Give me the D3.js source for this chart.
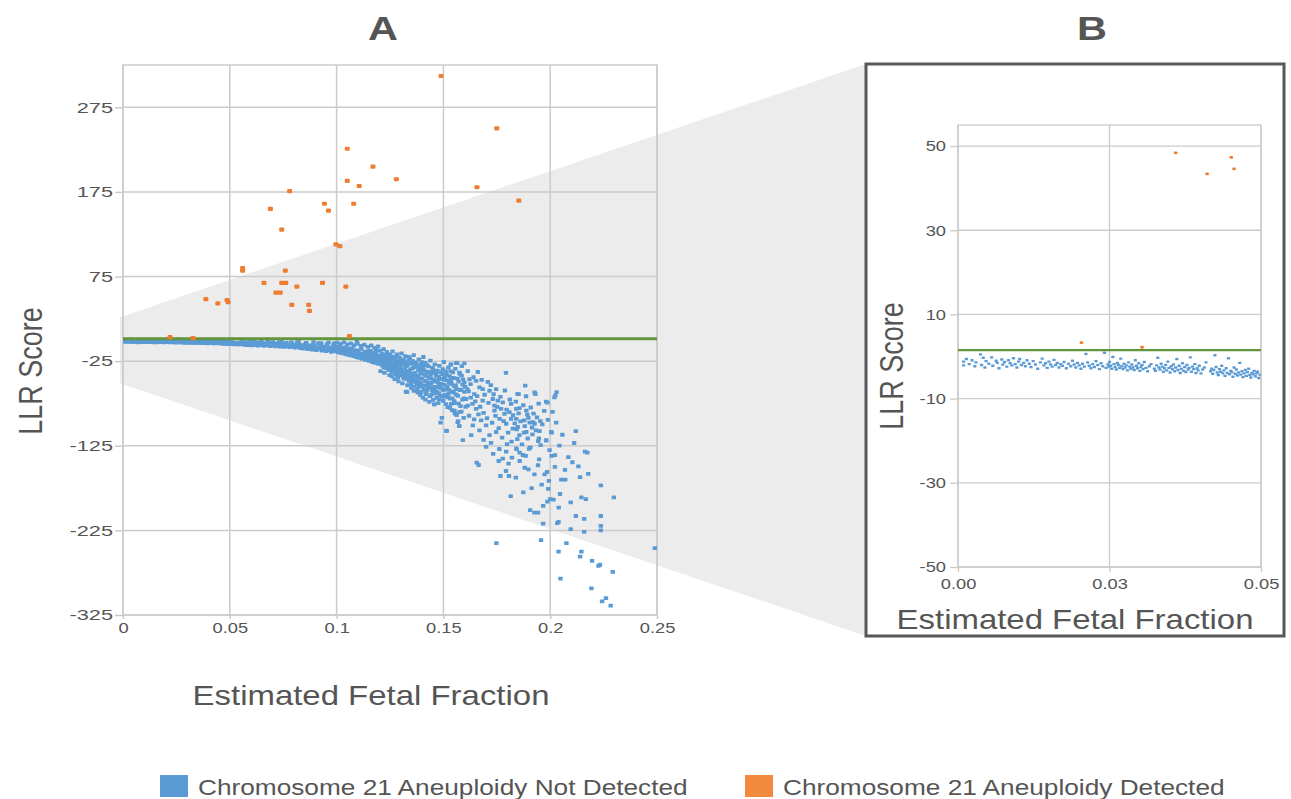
<!DOCTYPE html>
<html>
<head>
<meta charset="utf-8">
<script src="https://cdn.jsdelivr.net/npm/d3@7"></script>
<style>
  body { margin: 0; background: #fff; }
  svg text { font-family: "Liberation Sans", Arial, sans-serif; fill: #555; }
</style>
</head>
<body>
<svg id="chart" width="1291" height="799"></svg>
<script>
// LLR score cut-off (green line)
const threshold = 1.5;

const xTicksA = [0, 0.05, 0.1, 0.15, 0.2, 0.25];
const yTicksA = [-325, -225, -125, -25, 75, 175, 275];
const xTicksB = [0, 0.027, 0.054];
const yTicksB = [-50, -30, -10, 10, 30, 50];
const legendLabels = ["Chromosome 21 Aneuploidy Not Detected", "Chromosome 21 Aneuploidy Detected"];

// not detected, fetal fraction below 0.054 (the zoomed range of B)
const ffLow = [
  [0.001,-1.2],[0.001,-2.1],[0.0015,-0.6],[0.002,-1.8],[0.0025,-0.9],[0.003,-2.3],[0.0032,-1.4],[0.004,0.5],[0.0042,-2.0],[0.0045,-0.3],[0.005,-1.1],[0.0048,-2.6],
  [0.0055,-1.7],[0.006,-0.2],[0.0062,-2.2],[0.0068,-1.0],[0.007,-1.5],[0.0073,-2.8],[0.0078,-0.7],[0.008,-1.9],[0.0083,-1.3],[0.0087,-2.4],[0.009,-0.9],[0.0093,-1.6],[0.0096,-2.1],[0.0099,-0.4],
  [0.0102,-1.8],[0.0105,-2.6],[0.0108,-1.2],[0.011,-0.6],[0.0113,-2.0],[0.0117,-1.5],[0.012,-2.3],[0.0123,-0.9],[0.0127,-1.7],[0.013,-2.5],[0.0134,-1.1],[0.0138,-1.9],[0.0142,-2.9],[0.0147,-1.4],
  [0.015,-0.5],[0.0153,-2.1],[0.0156,-1.6],[0.0159,-2.7],[0.0162,-1.2],[0.0165,-1.9],[0.0168,-2.4],[0.0171,-0.8],[0.0174,-2.0],[0.0177,-1.5],[0.018,-2.6],[0.0183,-1.8],[0.0186,-2.2],[0.0189,-1.3],[0.0193,-2.8],[0.0197,-1.7],
  [0.0201,-2.3],[0.0204,-1.0],[0.0207,-1.9],[0.021,-2.6],[0.0213,-1.5],[0.0216,-2.1],[0.0219,-2.9],[0.0222,-1.7],[0.0225,-2.4],[0.0228,0.6],[0.0231,-1.4],[0.0234,-2.2],[0.0237,-2.8],[0.024,-1.8],[0.0243,-2.5],[0.0246,-1.1],[0.0249,-2.0],[0.0252,-3.0],[0.0255,-1.6],[0.0258,-2.3],[0.0261,0.9],[0.0264,-2.7],[0.0267,-1.9],[0.0269,-2.4],
  [0.027,-1.3],[0.0272,-2.2],[0.0274,-2.9],[0.0276,-0.1],[0.0278,-1.8],[0.028,-2.5],[0.0282,-3.1],[0.0284,-1.5],[0.0286,-2.0],[0.0288,-2.7],[0.029,-0.5],[0.0292,-2.3],[0.0294,-3.0],[0.0296,-1.7],[0.0298,-2.6],[0.03,-2.1],[0.0302,-3.3],[0.0304,-1.4],[0.0306,-2.4],[0.0308,-2.9],[0.031,-1.9],[0.0312,-2.6],[0.0314,-3.2],[0.0316,-0.9],[0.0318,-2.2],[0.032,-2.8],[0.0322,-1.6],[0.0324,-3.4],[0.0326,-2.5],[0.0328,-2.0],[0.033,-3.0],[0.0332,-1.3],[0.0335,-2.7],[0.0338,-3.5],[0.0341,-2.3],[0.0344,-1.8],
  [0.035,-2.9],[0.0352,-3.4],[0.0354,-2.1],[0.0356,-0.3],[0.0358,-2.6],[0.036,-3.1],[0.0362,-1.7],[0.0364,-2.4],[0.0366,-3.6],[0.0368,-2.8],[0.037,-2.0],[0.0372,-3.3],[0.0374,-1.2],[0.0376,-2.7],[0.0378,-3.8],[0.038,-2.3],[0.0382,-3.0],[0.0384,-1.9],[0.0386,-3.5],[0.0388,-2.6],[0.039,-0.6],[0.0392,-3.2],[0.0394,-2.2],[0.0396,-3.9],[0.0398,-2.9],[0.04,-1.6],[0.0402,-3.4],[0.0404,-2.5],[0.0406,-3.7],[0.0408,-2.0],[0.041,-3.1],[0.0412,-2.7],[0.0414,-0.2],[0.0416,-3.6],[0.0418,-2.4],[0.042,-3.0],[0.0422,-1.8],[0.0424,-3.9],[0.0426,-2.8],[0.0428,-3.3],[0.043,-2.2],[0.0433,-4.0],[0.0436,-3.1],[0.0439,-2.6],[0.0442,-1.4],
  [0.045,-3.5],[0.0452,-2.9],[0.0454,-4.1],[0.0456,-3.2],[0.0458,0.3],[0.046,-2.5],[0.0462,-3.8],[0.0464,-4.4],[0.0466,-3.0],[0.0468,-3.6],[0.047,-2.2],[0.0472,-4.0],[0.0474,-3.3],[0.0476,-4.6],[0.0478,-2.8],[0.048,-3.9],[0.0482,-0.4],[0.0484,-4.2],[0.0486,-3.4],[0.0488,-3.7],[0.049,-4.8],[0.0492,-2.6],[0.0494,-4.1],[0.0496,-3.1],[0.0498,-4.5],[0.05,-3.8],[0.0502,-1.5],[0.0504,-4.3],[0.0506,-3.5],[0.0508,-4.9],[0.051,-4.0],[0.0512,-3.2],[0.0514,-4.6],[0.0516,-3.7],[0.0518,-2.9],[0.052,-4.4],[0.0522,-5.0],[0.0524,-3.9],[0.0526,-4.2],[0.0528,-3.4],[0.053,-4.7],[0.0532,-4.0],[0.0534,-3.6],[0.0536,-5.1],[0.0538,-4.3]
];

// not detected, 0.054 to 0.12: the band bending down
const ffMid = [
  [0.0545,-3.1],[0.0548,-5.2],[0.0552,-4.0],[0.0556,-1.8],[0.056,-4.7],[0.0564,-3.5],[0.0568,-5.6],[0.0572,-2.6],[0.0576,-4.3],[0.058,-6.0],[0.0584,-3.8],[0.0588,-5.0],[0.0592,-2.2],[0.0596,-4.6],[0.06,-6.3],[0.0604,-3.4],[0.0608,-5.4],[0.0612,-4.1],[0.0616,-0.8],[0.062,-5.9],[0.0624,-4.8],[0.0628,-3.2],[0.0632,-6.6],[0.0636,-4.4],[0.064,-5.3],[0.0645,-2.9],[0.065,-6.1],
  [0.0655,-4.9],[0.066,-7.0],[0.0665,-3.7],[0.067,-5.6],[0.0675,0.8],[0.0675,-6.4],[0.068,-1.5],[0.0685,-4.5],[0.069,-7.2],[0.0695,-5.8],[0.07,-3.9],[0.0705,-6.7],[0.071,-5.1],[0.0715,-7.6],[0.072,-4.2],[0.0725,-6.0],[0.073,-2.4],[0.0735,-7.9],[0.074,-5.4],[0.0745,-6.9],[0.075,-4.6],[0.0755,-8.2],[0.076,-6.2],[0.0765,-3.3],[0.077,-7.4],[0.0775,-5.7],[0.078,-8.5],[0.0785,-6.5],[0.079,-4.1],[0.0795,-7.7],
  [0.08,-5.9],[0.0805,-9.0],[0.081,-6.8],[0.0815,-2.8],[0.082,-8.1],[0.0825,-5.2],[0.083,-9.6],[0.0835,-7.1],[0.084,-6.0],[0.0845,-10.2],[0.085,-8.4],[0.0855,-4.4],[0.086,-7.5],[0.0865,-10.8],[0.087,-6.3],[0.0875,-9.1],[0.088,-8.0],[0.0885,-11.4],[0.089,-5.5],[0.0895,-9.8],[0.09,-7.2],[0.0905,-12.0],[0.091,-8.7],[0.0915,-3.6],[0.092,-10.5],[0.0925,-6.8],[0.093,-12.6],[0.0935,-9.4],[0.094,-7.9],[0.0945,-11.2],[0.095,-13.1],[0.0955,-5.0],[0.096,-10.0],[0.0965,-8.6],[0.097,-12.3],[0.0975,-14.0],[0.098,-9.3],[0.0985,-6.4],[0.099,-11.7],[0.0995,-13.5],
  [0.1,-8.2],[0.1004,-10.9],[0.1008,-14.6],[0.1012,-12.0],[0.1016,-6.9],[0.102,-15.3],[0.1024,-9.5],[0.1028,-13.2],[0.1032,-16.0],[0.1036,-11.1],[0.104,-8.8],[0.1044,-14.4],[0.1048,-17.2],[0.1052,-12.7],[0.1056,-10.1],[0.106,-15.8],[0.1064,-18.0],[0.1068,-13.6],[0.1072,-9.7],[0.1076,-16.9],[0.108,-19.1],[0.1084,-11.9],[0.1088,-14.8],[0.1092,-20.3],[0.1095,-1.4],[0.1096,-17.5],[0.11,-12.4],[0.1104,-21.2],[0.1108,-15.6],[0.1112,-18.7],[0.1116,-10.6],[0.112,-22.4],[0.1124,-16.4],[0.1128,-19.8],[0.1132,-13.9],[0.1136,-23.5],[0.114,-18.1],[0.1144,-21.0],[0.1148,-15.0],[0.1152,-24.6],[0.1156,-19.4],[0.116,-12.8],[0.1164,-22.7],[0.1168,-26.0],[0.1172,-17.3],[0.1176,-20.9],[0.118,-27.1],[0.1184,-14.5],[0.1188,-23.8],[0.1192,-18.9],[0.1196,-28.3],
  [0.0612,-2.0],[0.0648,-1.2],[0.0702,-2.5],[0.0742,-1.9],[0.0788,-2.9],[0.0822,-1.6],[0.0858,-3.3],[0.0892,-2.4],[0.0928,-3.8],[0.0962,-2.9],[0.0988,-4.1],
  [0.1002,-3.1],[0.1018,-4.6],[0.1034,-2.7],[0.105,-5.3],[0.1066,-3.9],[0.1082,-6.2],[0.1098,-4.4],[0.1114,-7.0],[0.113,-5.6],[0.1146,-8.1],[0.1162,-6.5],[0.1178,-9.3],[0.1194,-7.6]
];

// not detected, dense cloud 0.115 to 0.165
const ffCore = [
  [0.1151,-13.0],[0.1158,-17.4],[0.1163,-21.6],[0.1169,-15.1],[0.1174,-24.3],[0.1179,-19.0],[0.1185,-11.7],[0.1191,-25.6],[0.1197,-21.8],[0.1203,-27.0],[0.1209,-19.4],[0.1215,-23.7],[0.1221,-32.1],[0.1227,-21.0],[0.1233,-26.2],[0.1239,-17.3],[0.1245,-30.8],[0.1251,-24.0],[0.1257,-35.0],[0.1263,-22.9],[0.1269,-29.3],[0.1275,-37.5],[0.1281,-25.7],[0.1287,-32.2],[0.1293,-40.1],[0.1299,-27.4],[0.1305,-35.4],[0.1311,-23.2],[0.1317,-41.3],[0.1323,-30.9],[0.1329,-37.0],[0.1335,-45.1],[0.1341,-27.8],[0.1347,-34.4],[0.1353,-48.6],[0.1359,-40.5],[0.1365,-31.6],[0.1371,-43.2],[0.1377,-51.4],[0.1383,-35.5],[0.1389,-46.0],[0.1395,-39.7],[0.1401,-55.2],[0.1407,-30.3],[0.1413,-48.0],[0.1419,-42.4],[0.1425,-58.9],[0.1431,-37.6],[0.1437,-50.8],[0.1443,-45.5],[0.1449,-33.0],[0.1455,-61.9],[0.1461,-49.3],[0.1467,-39.0],[0.1473,-56.0],[0.1479,-43.7],[0.1485,-65.4],[0.1491,-52.0],[0.1497,-34.5],[0.1503,-47.0],[0.1509,-58.3],[0.1515,-41.2],[0.1521,-67.8],[0.1527,-50.5],[0.1533,-36.9],[0.1539,-60.6],[0.1545,-44.8],[0.1551,-72.3],[0.1557,-53.6],
  [0.1202,-12.5],[0.1205,-18.9],[0.1208,-24.1],[0.1211,-15.7],[0.1214,-30.2],[0.1217,-21.3],[0.122,-10.8],[0.1223,-27.4],[0.1226,-17.6],[0.1229,-33.0],[0.1232,-23.5],[0.1235,-14.2],[0.1238,-29.1],[0.1241,-20.4],[0.1244,-35.6],[0.1247,-25.8],[0.125,-16.9],[0.1253,-31.7],[0.1256,-22.2],[0.1259,-38.1],[0.1262,-13.4],[0.1265,-27.9],[0.1268,-19.6],[0.1271,-34.3],[0.1274,-24.7],[0.1277,-40.2],[0.128,-29.8],[0.1283,-17.1],[0.1286,-44.5],[0.1289,-26.3],[0.1292,-36.9],[0.1295,-21.0],[0.1298,-32.5],[0.1301,-41.8],[0.1304,-15.9],[0.1307,-28.6],[0.131,-38.4],[0.1313,-23.9],[0.1316,-46.0],[0.1319,-33.7],[0.1322,-19.2],[0.1325,-61.0],[0.1328,-42.9],[0.1331,-30.4],[0.1334,-25.1],[0.1337,-48.2],[0.134,-36.2],[0.1343,-21.7],[0.1346,-39.9],[0.1349,-52.3],[0.1352,-28.0],[0.1355,-44.1],[0.1358,-33.1],[0.1361,-17.8],[0.1364,-55.0],[0.1367,-38.9],[0.137,-26.6],[0.1373,-47.4],[0.1376,-31.3],[0.1379,-58.2],[0.1382,-42.0],[0.1385,-23.0],[0.1388,-50.6],[0.1391,-36.7],[0.1394,-29.5],[0.1397,-61.4],[0.14,-45.3],[0.1403,-33.9],[0.1406,-20.1],[0.1409,-53.8],[0.1412,-40.7],[0.1415,-27.2],[0.1418,-64.0],[0.1421,-48.9],[0.1424,-37.4],[0.1427,-56.7],[0.143,-31.0],[0.1433,-44.6],[0.1436,-66.3],[0.1439,-24.4],[0.1442,-51.5],[0.1445,-39.2],[0.1448,-59.8],[0.1451,-34.8],[0.1454,-47.1],[0.1457,-76.0],[0.146,-28.7],[0.1463,-55.4],[0.1466,-42.3],[0.1469,-68.5],[0.1472,-36.1],[0.1475,-50.2],[0.1478,-62.7],[0.1481,-30.6],[0.1484,-45.9],[0.1487,-97.7],[0.149,-57.3],[0.1493,-92.0],[0.1496,-40.4],[0.1499,-71.8],[0.1502,-26.0],[0.1505,-53.1],[0.1508,-64.9],[0.1511,-37.0],[0.1514,-107.0],[0.1517,-47.8],[0.152,-79.3],[0.1523,-32.4],[0.1526,-59.0],[0.1529,-42.8],[0.1532,-69.2],[0.1535,-29.0],[0.1538,-51.9],[0.1541,-83.0],[0.1544,-38.3],[0.1547,-62.1],[0.155,-45.0],[0.1553,-74.5],[0.1556,-34.2],[0.1559,-56.4],[0.1562,-88.7],[0.1565,-27.3],[0.1568,-66.0],[0.1571,-49.1],[0.1574,-101.7],[0.1577,-40.0],[0.158,-78.2],[0.1583,-58.7],[0.1586,-30.8],[0.1589,-70.4],[0.1592,-46.5],[0.1595,-92.1],[0.1598,-61.3],
  [0.1206,-36.8],[0.1212,-28.5],[0.1224,-38.9],[0.1236,-33.6],[0.1248,-41.5],[0.1254,-19.8],[0.126,-43.0],[0.1272,-46.2],[0.1278,-20.9],[0.129,-48.9],[0.1302,-23.6],[0.1308,-51.2],[0.132,-26.4],[0.1332,-53.5],[0.1338,-19.9],[0.135,-56.8],[0.1356,-24.8],[0.1362,-60.1],[0.1374,-28.4],[0.138,-62.3],[0.1386,-33.0],[0.1392,-65.0],[0.1398,-26.1],[0.1404,-68.2],[0.141,-35.9],[0.1416,-70.4],[0.1422,-29.7],[0.1428,-52.6],[0.1434,-73.1],[0.144,-41.0],[0.1446,-55.8],[0.1452,-70.6],[0.1458,-38.4],[0.1464,-63.4],[0.147,-47.6],[0.1476,-74.7],[0.1482,-53.9],[0.1488,-38.2],[0.1494,-66.5],[0.15,-59.6],[0.1506,-44.4],[0.1512,-75.9],[0.1518,-55.2],[0.1524,-63.7],[0.153,-80.1],[0.1536,-47.3],[0.1542,-69.0],[0.1548,-54.1],[0.1554,-87.0],[0.156,-64.4],[0.1566,-45.6],[0.1572,-75.3],[0.1578,-59.3],[0.1584,-84.6],[0.159,-52.8],[0.1596,-68.9],[0.1604,-79.1],[0.1612,-58.0],[0.162,-89.5],[0.1628,-68.1],[0.1636,-75.6],[0.1644,-93.8],
  [0.1252,-28.0],[0.1264,-31.2],[0.1276,-33.4],[0.1288,-36.1],[0.13,-38.0],[0.1312,-43.6],[0.1324,-39.2],[0.1336,-41.8],[0.1348,-45.0],[0.136,-47.9],[0.1372,-50.0],[0.1384,-54.6],[0.1396,-50.9],[0.1408,-58.7],[0.142,-61.5],[0.1432,-54.3],[0.1444,-64.7],[0.1456,-57.5],[0.1468,-60.6],[0.148,-70.2],[0.1492,-45.9],[0.1504,-66.9]
];

// not detected, sparse tail above 0.15
const ffTail = [
  [0.249,-246],[0.1748,-240],[0.1957,-236.6],[0.2039,-250],[0.2076,-240],[0.214,-256],[0.2146,-250],[0.2196,-261],[0.2226,-267],[0.2233,-265.6],[0.2293,-274],[0.2048,-282],[0.2193,-293.6],[0.2261,-305],[0.2243,-309],[0.2283,-314],
  [0.1967,-217],[0.2033,-216.5],[0.2039,-215],[0.2096,-223.6],[0.2159,-226.7],[0.212,-208],[0.2159,-211.4],[0.2237,-208],[0.2237,-219.6],[0.2237,-225],[0.1906,-201],[0.1926,-204],[0.1943,-204],[0.1967,-196],[0.1987,-191],[0.2,-188],[0.2015,-188.6],[0.204,-198],[0.2096,-192],[0.2146,-186],[0.2167,-188],[0.2298,-186],[0.2237,-171.7],
  [0.1815,-184.6],[0.1874,-180],[0.1913,-175],[0.196,-171],[0.1991,-176],[0.2046,-182],[0.1994,-166.6],[0.2052,-165],[0.207,-165],[0.214,-162],[0.1985,-156],[0.1974,-158.7],[0.2022,-150],[0.2007,-137],[0.2022,-136],[0.2104,-144.5],[0.2069,-153.6],[0.1926,-158.7],[0.1898,-152.8],[0.1881,-151],[0.1839,-162.6],[0.1793,-154.8],[0.1767,-160.7],[0.1807,-160.7],[0.1759,-143],[0.1665,-147.7],[0.1656,-145],[0.1857,-143],[0.1857,-133],[0.1885,-137],[0.1948,-141],[0.1943,-148],[0.2174,-133],[0.2163,-132],
  [0.1981,-119],[0.1944,-119.4],[0.1907,-127],[0.1843,-129],[0.1798,-123],[0.212,-107.6],[0.2007,-109.5],[0.195,-107.6],[0.1917,-111.5],[0.1878,-109.5],[0.1843,-105.6],[0.1987,-74],[0.203,-61.6],[0.2024,-65.5],[0.1883,-54],[0.1852,-64],[0.1931,-64],[0.1793,-38.8],[0.1898,-92],[0.1954,-95.8],[0.1904,-97.7],[0.1515,-107.6],[0.1569,-95.8],[0.1574,-101.7],[0.1457,-76],[0.133,-61.6],[0.1287,-43.5],
  [0.1536,-28.9],[0.156,-27],[0.1598,-27.7],[0.1575,-38.6],[0.1614,-36.7],[0.1661,-37.8],[0.1653,-48.3],[0.1622,-46.4],[0.1708,-49.5],[0.1684,-58],[0.1716,-60],[0.1747,-58],[0.1755,-71.7],[0.1739,-77.5],[0.1778,-73.6],[0.1817,-75.6],[0.1841,-81.4],[0.1856,-80.6],[0.1888,-83.4],[0.1847,-63.9],[0.1927,-62],[0.1981,-72.9],[0.202,-67.8],[0.1575,-85.3],[0.1567,-97],[0.1638,-100.9],[0.1669,-106.7],[0.17,-100.9],[0.1716,-112.5],[0.1747,-108.7],[0.1763,-93.1],[0.1794,-99],[0.1825,-104.8],[0.1841,-93.1],[0.1856,-112.5],[0.1888,-108.7],[0.1919,-97],[0.1934,-106.7],[0.1947,-116.4],[0.1981,-118.4],[0.2005,-108.7],[0.17,-126.2],[0.1794,-132],[0.1841,-128.1],[0.1872,-135.9],[0.1591,-118.4],[0.163,-112.5],[0.1677,-95],[0.1653,-81.4],[0.1614,-77.5],[0.1684,-71.7],[0.1739,-83.4],[0.1786,-87.3],[0.1817,-93.1],[0.1536,-75.6],[0.1552,-83.4],[0.1606,-69.7],[0.1645,-63.9],[0.1669,-56.1],[0.1598,-50.3],[0.156,-58.1],[0.1731,-69.7],[0.177,-81.4],[0.1809,-85.3],[0.1848,-102.8],[0.1895,-116.4],[0.1927,-99],[0.1878,-95],
  [0.1585,-42.0],[0.1602,-55.5],[0.1618,-60.8],[0.1627,-52.1],[0.1641,-44.0],[0.1649,-72.6],[0.1658,-66.4],[0.1664,-88.0],[0.1672,-78.9],[0.1679,-47.2],[0.1688,-86.1],[0.1693,-64.7],[0.1704,-92.5],[0.1711,-74.2],[0.1722,-53.4],[0.1728,-97.8],[0.1735,-64.1],[0.1744,-89.6],[0.1752,-79.0],[0.1759,-104.1],[0.1767,-67.2],[0.1775,-115.3],[0.1782,-95.9],[0.1788,-59.7],[0.1796,-82.2],[0.1803,-109.4],[0.1811,-70.3],[0.1819,-120.0],[0.1826,-88.8],[0.1834,-98.5],[0.1839,-72.9],[0.1846,-117.1],[0.1852,-86.6],[0.1861,-96.2],[0.1868,-123.4],[0.1874,-77.1],[0.1881,-101.9],[0.1887,-66.5],[0.1893,-88.1],[0.1901,-128.6],[0.1909,-79.8],[0.1915,-103.4],[0.1922,-86.9],[0.1938,-91.5],[0.1946,-75.2],[0.1955,-124.3],[0.1963,-99.7],[0.1972,-83.8],[0.1989,-94.4],[0.1997,-130.2],[0.2011,-85.0],[0.2028,-97.6],[0.2043,-124.9],[0.2057,-112.0],[0.2085,-138.4],[0.2112,-121.7],[0.2132,-149.3],[0.2178,-158.2],[0.1688,-118.0],[0.1733,-134.5],[0.1778,-140.1],[0.1723,-121.6],[0.1762,-128.8],[0.1805,-146.2],[0.1821,-139.0]
];

// aneuploidy detected
const detected = [
  [0.1489,312],[0.175,250],[0.105,226],[0.117,205],[0.128,190],[0.105,188],[0.1106,182],[0.1657,180.5],[0.078,176],[0.1853,164.8],
  [0.0943,161],[0.108,161],[0.0962,153],[0.069,155],[0.0743,130.5],[0.0997,113],[0.1015,111],[0.056,85],[0.056,82],[0.076,82],
  [0.066,67.5],[0.0743,67.5],[0.0762,67.5],[0.0934,67.5],[0.0814,63],[0.1043,63],[0.0716,56],[0.0736,56],
  [0.0388,48.4],[0.0444,43.4],[0.0487,47.3],[0.0492,44.6],[0.079,41.5],[0.0869,41.5],[0.0873,34.5],
  [0.022,3.3],[0.0328,2.2],[0.106,4.5]
];

const notDetected = ffLow.concat(ffMid, ffCore, ffTail);

const blue = "#5b9bd5";
const orange = "#ed7d31";
const green = "#62953e";
const grid = "#cbcbcb";
const sx = 1.22; // the original figure is stretched sideways

const svg = d3.select("#chart");

const xA = d3.scaleLinear().domain([0, 0.25]).range([123, 657]);
const yA = d3.scaleLinear().domain([-325, 325]).range([615, 65]);
const xB = d3.scaleLinear().domain([0, 0.054]).range([958, 1261]);
const yB = d3.scaleLinear().domain([-50, 55]).range([567, 125]);

// grey wedge joining the low corner of A to the zoom box
svg.append("polygon")
    .attr("points", [[xA(0) - 3, yA(27)], [866, 64], [866, 636], [xA(0) - 3, yA(-51)]].join(" "))
    .attr("fill", "#ececec");

svg.append("rect")
    .attr("x", 866).attr("y", 64).attr("width", 418).attr("height", 572)
    .attr("fill", "#fff").attr("stroke", "#575757").attr("stroke-width", 3);

function label(text, x, y, size, opts = {}) {
    const t = svg.append("text")
        .attr("transform", `translate(${x},${y}) scale(${sx},1)` + (opts.rotate ? " rotate(-90)" : ""))
        .attr("text-anchor", opts.anchor || "middle")
        .style("font-size", size + "px")
        .text(text);
    if (opts.bold) t.style("font-weight", "bold");
    return t;
}

function drawPanel(p) {
    const g = svg.append("g");
    const [x0, x1] = p.x.range();
    const [y0, y1] = p.y.range();
    const id = "clip" + p.name;

    g.append("clipPath").attr("id", id)
        .append("rect").attr("x", x0).attr("y", y1).attr("width", x1 - x0).attr("height", y0 - y1);

    g.append("g").selectAll("line").data(p.xTicks).join("line")
        .attr("x1", d => p.x(d)).attr("x2", d => p.x(d))
        .attr("y1", y1).attr("y2", y0)
        .attr("stroke", grid).attr("stroke-width", p.gridWidth);
    g.append("g").selectAll("line").data(p.yTicks).join("line")
        .attr("x1", x0).attr("x2", x1)
        .attr("y1", d => p.y(d)).attr("y2", d => p.y(d))
        .attr("stroke", grid).attr("stroke-width", p.gridWidth);
    g.append("rect")
        .attr("x", x0).attr("y", y1).attr("width", x1 - x0).attr("height", y0 - y1)
        .attr("fill", "none").attr("stroke", grid).attr("stroke-width", p.gridWidth);

    const xAxis = g.append("g")
        .attr("transform", `translate(0,${y0})`)
        .call(d3.axisBottom(p.x).tickValues(p.xTicks).tickFormat(p.xFormat)
            .tickSize(p.xTickSize).tickPadding(p.xPad));
    const yAxis = g.append("g")
        .attr("transform", `translate(${x0},0)`)
        .call(d3.axisLeft(p.y).tickValues(p.yTicks).tickFormat(d => String(d))
            .tickSize(8).tickPadding(p.yPad));
    [xAxis, yAxis].forEach(a => {
        a.select(".domain").remove();
        a.selectAll("line").attr("stroke", grid).attr("stroke-width", p.gridWidth);
        a.selectAll("text")
            .attr("font-family", null).attr("font-size", null)
            .style("font-size", "15px").style("fill", "#555")
            .attr("transform", `scale(${sx},1)`);
    });
    yAxis.selectAll("text")
        .attr("transform", `scale(${p.ySx},1)`)
        .attr("x", -(8 + p.yPad) / p.ySx);

    const marks = g.append("g").attr("clip-path", `url(#${id})`);
    marks.append("g").selectAll("rect").data(notDetected).join("rect")
        .attr("x", d => p.x(d[0]) - p.blueW / 2)
        .attr("y", d => p.y(d[1]) - p.blueH / 2)
        .attr("width", p.blueW).attr("height", p.blueH).attr("rx", 0.6)
        .attr("fill", blue);
    marks.append("line")
        .attr("x1", x0).attr("x2", x1)
        .attr("y1", p.y(threshold)).attr("y2", p.y(threshold))
        .attr("stroke", green).attr("stroke-width", p.lineWidth);
    marks.append("g").selectAll("rect").data(detected).join("rect")
        .attr("x", d => p.x(d[0]) - p.orangeW / 2)
        .attr("y", d => p.y(d[1]) - p.orangeH / 2)
        .attr("width", p.orangeW).attr("height", p.orangeH).attr("rx", 1)
        .attr("fill", orange);
}

drawPanel({
    name: "A", x: xA, y: yA, xTicks: xTicksA, yTicks: yTicksA,
    xFormat: d => String(d), xTickSize: 4, xPad: 3, yPad: 2, ySx: 1.45,
    gridWidth: 1.5, lineWidth: 3.2,
    blueW: 4.4, blueH: 3.8, orangeW: 5, orangeH: 4.2
});

drawPanel({
    name: "B", x: xB, y: yB, xTicks: xTicksB, yTicks: yTicksB,
    xFormat: d3.format(".2f"), xTickSize: 5, xPad: 6, yPad: 4, ySx: sx,
    gridWidth: 1.3, lineWidth: 2.2,
    blueW: 3.2, blueH: 2.4, orangeW: 3.6, orangeH: 2.8
});

// titles
label("A", 383, 40, 34, { bold: true });
label("B", 1092, 40, 34, { bold: true });
label("Estimated Fetal Fraction", 371, 705, 27);
label("LLR Score", 42, 371, 27, { rotate: true });
label("Estimated Fetal Fraction", 1075, 629, 27);
label("LLR Score", 903, 366, 27, { rotate: true });

// legend
const legendX = [160, 745];
const legend = svg.append("g").selectAll("g").data(legendLabels).join("g")
    .attr("transform", (d, i) => `translate(${legendX[i]},775)`);
legend.append("rect")
    .attr("width", 28).attr("height", 22)
    .attr("fill", (d, i) => i === 0 ? blue : "#f28a3e");
legend.append("text")
    .attr("transform", `translate(38,20) scale(${sx},1)`)
    .style("font-size", "21.5px")
    .text(d => d);
</script>
</body>
</html>
